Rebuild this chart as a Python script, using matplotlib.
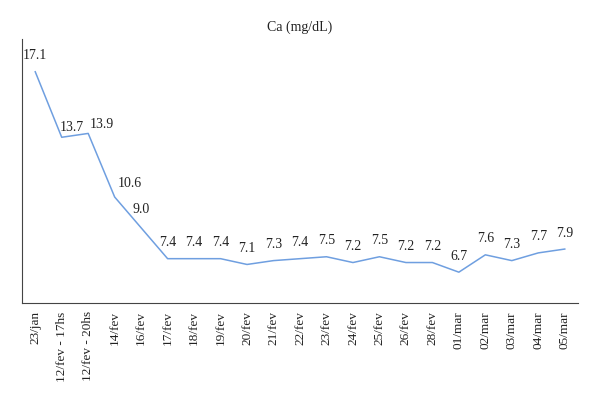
import matplotlib
matplotlib.use("Agg")
import matplotlib.pyplot as plt

dates = ["23/jan", "12/fev - 17hs", "12/fev - 20hs", "14/fev", "16/fev", "17/fev",
         "18/fev", "19/fev", "20/fev", "21/fev", "22/fev", "23/fev", "24/fev",
         "25/fev", "26/fev", "28/fev", "01/mar", "02/mar", "03/mar", "04/mar", "05/mar"]
ca = [17.1, 13.7, 13.9, 10.6, 9.0, 7.4, 7.4, 7.4, 7.1, 7.3, 7.4, 7.5, 7.2,
      7.5, 7.2, 7.2, 6.7, 7.6, 7.3, 7.7, 7.9]

# label nudges (pixels) where the labels were moved off the line
nudge = {1: (10, 10), 2: (14, 9), 3: (15, 14), 4: (0, 18)}

plt.rcParams['font.family'] = ['Liberation Serif', 'DejaVu Serif']

fig = plt.figure(figsize=(6.0, 3.98), dpi=100)
ax = fig.add_axes([22 / 600, 1 - 303 / 398, 556 / 600, (303 - 39) / 398])

x = list(range(len(ca)))
ax.plot(x, ca, color='#6f9fe0', lw=1.1)

for i, v in enumerate(ca):
    dx, dy = nudge.get(i, (0, 16))
    ax.annotate(f"{v:.1f}", (i, v), xytext=(dx, dy), textcoords='offset pixels',
                ha='center', va='center', fontsize=10, color='#222222')

ax.set_xlim(-0.5, len(ca) - 0.5)
ax.set_ylim(5.1, 18.8)
ax.set_xticks(x)
ax.set_xticklabels(dates, rotation=90, fontsize=9.5, color='#222222')
ax.tick_params(axis='x', length=0, pad=6)
ax.set_yticks([])
for s in ['top', 'right']:
    ax.spines[s].set_visible(False)
ax.spines['left'].set_color('#444444')
ax.spines['bottom'].set_color('#444444')

fig.text(0.5, 1 - 27 / 398, "Ca (mg/dL)", ha='center', va='center', fontsize=10, color='#222222')

fig.savefig("out.png", dpi=100)
